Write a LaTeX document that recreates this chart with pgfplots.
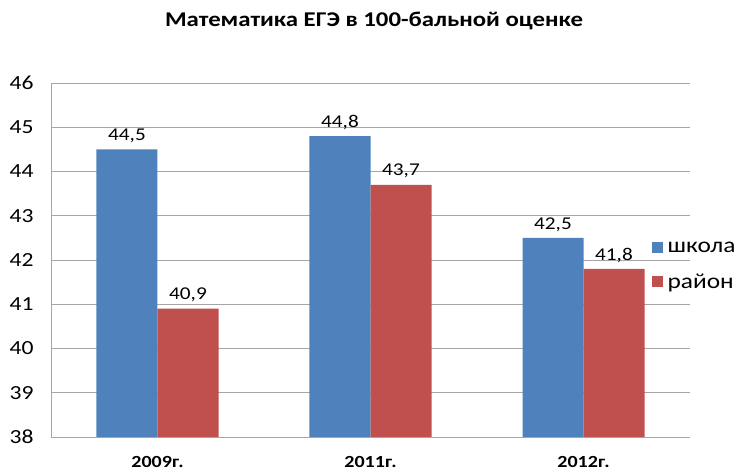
\documentclass[border=0pt]{standalone}
\usepackage{pgfplots}
\pgfplotsset{compat=1.18}
\usepackage{fontspec}
\setmainfont{Carlito}[FakeStretch=1.18]
\definecolor{sblue}{HTML}{4F81BD}
\definecolor{sred}{HTML}{C0504D}
\definecolor{gridc}{HTML}{A6A6A6}
\begin{document}
\begin{tikzpicture}[x=1pt,y=1pt]
\path[use as bounding box] (0,0) rectangle (737,476);
\node[font=\fontsize{21}{25}\selectfont\bfseries] at (374,455) {Математика ЕГЭ в 100-бальной оценке};
\begin{axis}[
  at={(51pt,39pt)}, anchor=south west,
  scale only axis, width=639pt, height=354pt,
  ymin=38, ymax=46, ytick={38,39,...,46},
  xmin=-0.5, xmax=2.5, xtick={0,1,2},
  xticklabels={2009г.,2011г.,2012г.},
  ybar=0pt, bar width=61pt,
  axis x line*=bottom, axis y line*=left,
  axis line style={draw=gridc,-},
  ymajorgrids, grid style={draw=gridc, line width=0.8pt},
  major tick length=0pt,
  /pgf/number format/assume math mode=true,
  yticklabel style={font=\fontsize{20}{24}\selectfont, xshift=-14pt},
  xticklabel style={font=\fontsize{17}{20}\selectfont\bfseries, yshift=-16pt},
  nodes near coords,
  nodes near coords style={font=\fontsize{18}{21}\selectfont, black, yshift=3pt,
    /pgf/number format/.cd, fixed, fixed zerofill, precision=1, use comma},
  legend style={at={(0.935,0.484)}, anchor=west, draw=none, fill=none,
    font=\fontsize{21.5}{25}\selectfont, row sep=16pt,
    legend cell align=left,
    nodes={inner xsep=5pt}},
  legend image code/.code={\fill[#1] (0pt,-5.5pt) rectangle (11pt,5.5pt);},
]
\addplot[fill=sblue, draw=none] coordinates {(0,44.5) (1,44.8) (2,42.5)};
\addplot[fill=sred, draw=none] coordinates {(0,40.9) (1,43.7) (2,41.8)};
\legend{школа,район}
\end{axis}
\end{tikzpicture}
\end{document}
